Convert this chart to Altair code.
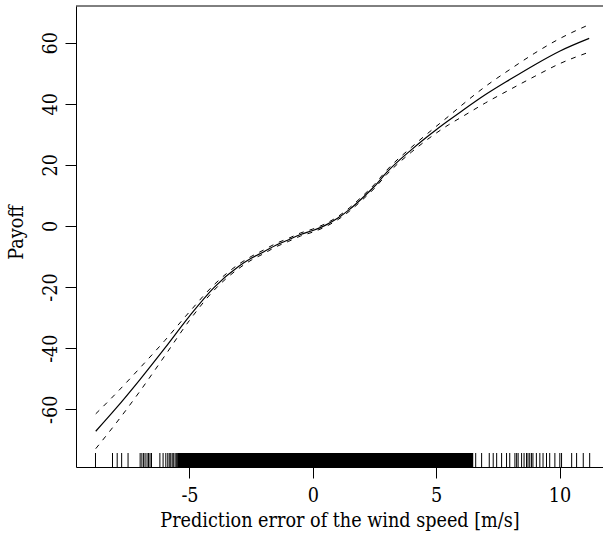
import altair as alt
import pandas as pd

# ---- data ----
xs = [-8.8, -8, -7, -6, -5, -4, -3, -2.5, -2, -1.5, -1, -0.5, 0, 0.5, 1, 1.5,
      2, 2.5, 3, 4, 5, 5.5, 6, 7, 8, 9, 10, 11.2]
fit = [-67.2, -59.9, -50.2, -40.0, -29.5, -20.1, -13.2, -10.6, -8.5, -6.3, -4.6,
       -2.8, -1.5, 0.2, 2.5, 5.5, 9.1, 13.0, 17.6, 25.0, 31.5, 34.5, 37.4, 43.0,
       48.0, 52.8, 57.2, 61.4]
half = [5.7, 4.9, 3.8, 2.5, 1.4, 0.9, 0.7, 0.6, 0.6, 0.55, 0.5, 0.5, 0.5, 0.5,
        0.5, 0.55, 0.6, 0.65, 0.7, 0.8, 1.1, 1.4, 1.9, 2.7, 3.3, 3.8, 4.1, 4.5]

rug_left = [-8.81, -8.12, -7.93, -7.75, -7.49, -7.0, -6.93, -6.86, -6.8, -6.72,
            -6.66, -6.6, -6.54, -6.2, -6.07, -5.96, -5.88, -5.82, -5.76, -5.7,
            -5.64, -5.58, -5.52]
rug_right = [6.60, 6.84, 7.15, 7.31, 7.45, 7.65, 7.85, 7.98, 8.19, 8.26, 8.32,
             8.46, 8.56, 8.66, 8.72, 8.79, 8.86, 8.92, 9.06, 9.20, 9.33, 9.47,
             9.60, 9.81, 10.01, 10.08, 10.49, 10.69, 10.96, 11.22]
rug_dense = [-5.5, 6.5]   # span where the rug ticks merge into a solid band

x_ticks = [-5, 0, 5, 10]
y_ticks = [-60, -40, -20, 0, 20, 40, 60]
x_domain = [-9.6, 11.76]
y_domain = [-78.9, 72.0]

x_title = "Prediction error of the wind speed [m/s]"
y_title = "Payoff"

# ---- chart ----
W, H = 527, 461
RUG = 14
FONT = "DejaVu Serif Condensed"
FS = 19.6
HYPHEN_LABEL = "(datum.value < 0 ? '-' : '') + abs(datum.value)"

curve = pd.DataFrame({
    "x": xs,
    "fit": fit,
    "upper": [f + h for f, h in zip(fit, half)],
    "lower": [f - h for f, h in zip(fit, half)],
})
rug = pd.DataFrame({"r": rug_left + rug_right})
dense = pd.DataFrame({"a": [rug_dense[0]], "b": [rug_dense[1]]})
frame = pd.DataFrame({"a": [x_domain[0]], "b": [x_domain[1]], "t": [y_domain[1]]})

xscale = alt.Scale(domain=x_domain, nice=False, zero=False)
yscale = alt.Scale(domain=y_domain, nice=False, zero=False)

xaxis = alt.Axis(values=x_ticks, title=x_title, grid=False, tickSize=11,
                 tickColor="black", tickWidth=1, domainColor="black", domainWidth=1,
                 labelFont=FONT, labelFontSize=FS, labelColor="black",
                 labelExpr=HYPHEN_LABEL,
                 labelPadding=8, labelFlush=False, labelOverlap=False,
                 titleFont=FONT, titleFontSize=FS, titleFontWeight="normal",
                 titleColor="black", titleBaseline="top", titleY=44)
yaxis = alt.Axis(values=y_ticks, title=y_title, grid=False, tickSize=11,
                 tickColor="black", tickWidth=1, domainColor="black", domainWidth=1,
                 labelFont=FONT, labelFontSize=FS, labelColor="black",
                 labelExpr=HYPHEN_LABEL,
                 labelAngle=270, labelAlign="center", labelBaseline="bottom",
                 labelPadding=5, labelFlush=False, labelOverlap=False,
                 titleFont=FONT, titleFontSize=FS, titleFontWeight="normal",
                 titleColor="black", titleAngle=270, titleBaseline="bottom",
                 titleX=-50, titleY=226)

X = alt.X("x:Q", scale=xscale, axis=xaxis)
base = alt.Chart(curve).encode(x=X)

fit_line = base.mark_line(color="black", strokeWidth=1.2, interpolate="monotone").encode(
    y=alt.Y("fit:Q", scale=yscale, axis=yaxis))
up_line = base.mark_line(color="black", strokeWidth=1, strokeDash=[5, 6],
                         interpolate="monotone").encode(
    y=alt.Y("upper:Q", scale=yscale, axis=yaxis))
lo_line = base.mark_line(color="black", strokeWidth=1, strokeDash=[5, 6],
                         interpolate="monotone").encode(
    y=alt.Y("lower:Q", scale=yscale, axis=yaxis))

rug_marks = alt.Chart(rug).mark_rule(color="black", strokeWidth=1).encode(
    x=alt.X("r:Q", scale=xscale, axis=xaxis),
    y=alt.value(H - RUG), y2=alt.value(H))
dense_band = alt.Chart(dense).mark_rect(color="black").encode(
    x=alt.X("a:Q", scale=xscale, axis=xaxis), x2="b:Q",
    y=alt.value(H - RUG), y2=alt.value(H))
top_line = alt.Chart(frame).mark_rule(color="black", strokeWidth=1).encode(
    x=alt.X("a:Q", scale=xscale, axis=xaxis), x2="b:Q",
    y=alt.Y("t:Q", scale=yscale, axis=yaxis))

chart = alt.layer(top_line, dense_band, rug_marks, lo_line, up_line, fit_line).properties(
    width=W, height=H, autosize="none",
    padding={"left": 76, "top": 6, "right": 0, "bottom": 73},
    background="white",
).configure_view(stroke=None)

chart.save("out.html", embed_options={"renderer": "svg", "actions": False})
